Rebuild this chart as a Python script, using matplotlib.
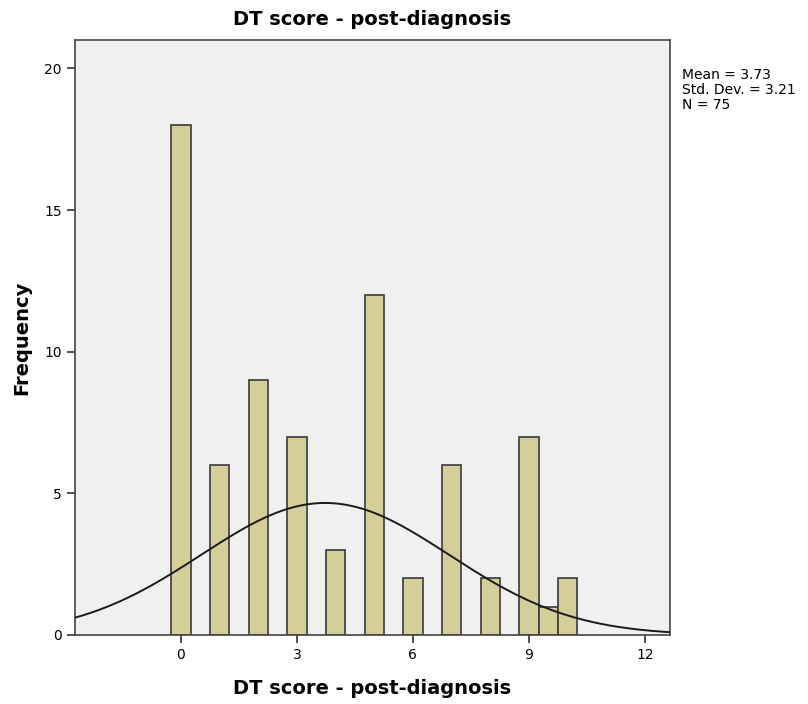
import numpy as np
import matplotlib
matplotlib.use("Agg")
import matplotlib.pyplot as plt

scores = [0, 1, 2, 3, 4, 5, 6, 7, 8, 9, 9.5, 10]
freqs = [18, 6, 9, 7, 3, 12, 2, 6, 2, 7, 1, 2]
xticks = [0, 3, 6, 9, 12]
yticks = [0, 5, 10, 15, 20]
mean, sd, n = 3.73, 3.21, 75
bin_width = 0.5

fig = plt.figure(figsize=(8.08, 7.04), dpi=100)
ax = fig.add_axes([75/808, 1-635/704, 595/808, 595/704])
ax.set_facecolor("#f0f0f0")

ax.bar(scores, freqs, width=bin_width, color="#d4cf98", edgecolor="#3a3a3a", linewidth=1.2, zorder=2)

xs = np.linspace(-2.74, 12.65, 400)
ys = n * bin_width * np.exp(-0.5 * ((xs - mean) / sd) ** 2) / (sd * np.sqrt(2 * np.pi))
ax.plot(xs, ys, color="#1a1a1a", linewidth=1.4, zorder=3)

ax.set_xlim(-2.74, 12.65)
ax.set_ylim(0, 21.0)
ax.set_xticks(xticks)
ax.set_yticks(yticks)
ax.tick_params(direction="out", length=6, width=1.2, labelsize=10, color="#333333")
for s in ax.spines.values():
    s.set_color("#444444")
    s.set_linewidth(1.2)

ax.set_title("DT score - post-diagnosis", fontsize=14, fontweight="bold", pad=11)
ax.set_xlabel("DT score - post-diagnosis", fontsize=14, fontweight="bold", labelpad=12)
ax.set_ylabel("Frequency", fontsize=14, fontweight="bold", labelpad=9)

fig.text(682/808, 1-90/704, f"Mean = {mean:.2f}\nStd. Dev. = {sd:.2f}\nN = {n}",
         fontsize=10, va="center", ha="left", linespacing=1.1)

fig.savefig("out.png", dpi=100)
